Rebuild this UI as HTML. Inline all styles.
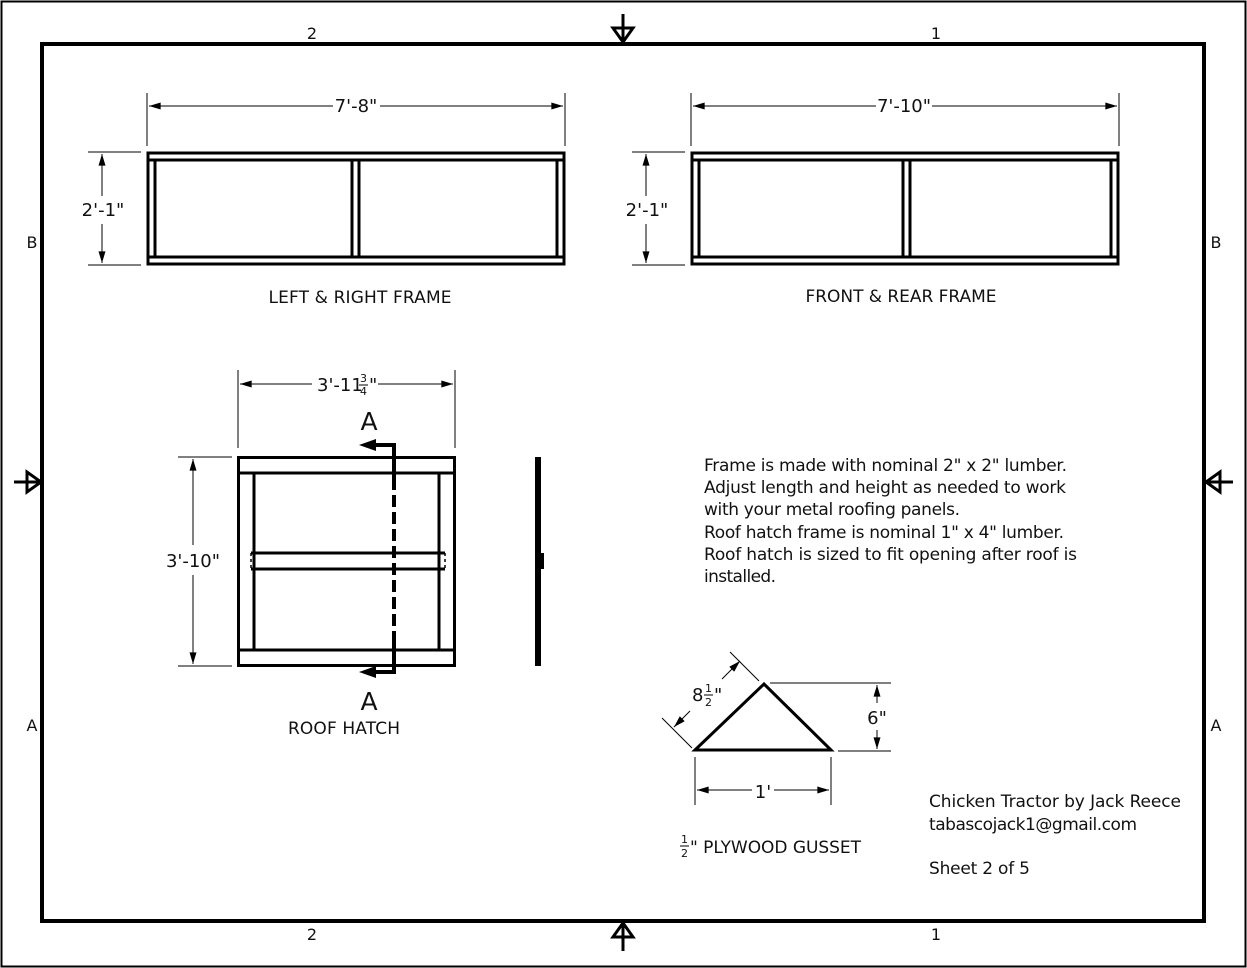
<!DOCTYPE html>
<html><head><meta charset="utf-8"><style>
html,body{margin:0;padding:0;background:#fff}
svg{display:block}
text{font-family:"DejaVu Sans","Liberation Sans",sans-serif;fill:#111}
</style></head><body>
<svg width="1247" height="968" viewBox="0 0 1247 968" xmlns="http://www.w3.org/2000/svg">
<defs>
<marker id="ar" viewBox="0 0 10 6" refX="10" refY="3" markerWidth="16" markerHeight="7" markerUnits="userSpaceOnUse" orient="auto-start-reverse"><path d="M0,0 L10,3 L0,6 Z" fill="#000"/></marker>
</defs>
<rect x="1.5" y="1.5" width="1244" height="965" fill="none" stroke="#000" stroke-width="2"/>
<rect x="42" y="44" width="1162" height="877" fill="none" stroke="#000" stroke-width="4"/>
<g stroke="#000" stroke-width="3" fill="none">
<line x1="623" y1="14" x2="623" y2="44"/><path d="M613,28 L633,28 L623,42 Z"/>
<line x1="623" y1="951" x2="623" y2="921"/><path d="M613,937 L633,937 L623,923 Z"/>
<line x1="14" y1="482" x2="42" y2="482"/><path d="M27,472 L27,492 L41,482 Z"/>
<line x1="1233" y1="482" x2="1204" y2="482"/><path d="M1220,472 L1220,492 L1206,482 Z"/>
</g>
<g font-size="16">
<text x="312" y="39" text-anchor="middle">2</text>
<text x="936" y="39" text-anchor="middle">1</text>
<text x="312" y="940" text-anchor="middle">2</text>
<text x="936" y="940" text-anchor="middle">1</text>
<text x="32" y="248" text-anchor="middle">B</text>
<text x="1216" y="248" text-anchor="middle">B</text>
<text x="32" y="731" text-anchor="middle">A</text>
<text x="1216" y="731" text-anchor="middle">A</text>
</g>

<g stroke="#000" stroke-width="3" fill="none">
<rect x="148" y="153" width="416" height="111"/>
<line x1="148" y1="160" x2="564" y2="160"/>
<line x1="148" y1="257" x2="564" y2="257"/>
<line x1="155" y1="160" x2="155" y2="257"/>
<line x1="557" y1="160" x2="557" y2="257"/>
<line x1="352" y1="160" x2="352" y2="257"/>
<line x1="359" y1="160" x2="359" y2="257"/>
</g>
<g stroke="#000" stroke-width="1" fill="none">
<line x1="147" y1="93" x2="147" y2="146"/><line x1="565" y1="93" x2="565" y2="146"/>
<line x1="149" y1="106" x2="333" y2="106" marker-start="url(#ar)"/>
<line x1="380" y1="106" x2="563" y2="106" marker-end="url(#ar)"/>
<line x1="88" y1="152" x2="141" y2="152"/><line x1="88" y1="265" x2="141" y2="265"/>
<line x1="102" y1="154" x2="102" y2="196" marker-start="url(#ar)"/>
<line x1="102" y1="224" x2="102" y2="263" marker-end="url(#ar)"/>
</g>
<text x="356" y="112" font-size="18" text-anchor="middle">7'-8"</text>
<text x="103" y="216" font-size="18" text-anchor="middle">2'-1"</text>
<text x="360" y="303" font-size="17" text-anchor="middle" textLength="183">LEFT &amp; RIGHT FRAME</text>

<g stroke="#000" stroke-width="3" fill="none">
<rect x="692" y="153" width="426" height="111"/>
<line x1="692" y1="160" x2="1118" y2="160"/>
<line x1="692" y1="257" x2="1118" y2="257"/>
<line x1="699" y1="160" x2="699" y2="257"/>
<line x1="1111" y1="160" x2="1111" y2="257"/>
<line x1="903" y1="160" x2="903" y2="257"/>
<line x1="910" y1="160" x2="910" y2="257"/>
</g>
<g stroke="#000" stroke-width="1" fill="none">
<line x1="691" y1="93" x2="691" y2="146"/><line x1="1119" y1="93" x2="1119" y2="146"/>
<line x1="693" y1="106" x2="876" y2="106" marker-start="url(#ar)"/>
<line x1="932" y1="106" x2="1117" y2="106" marker-end="url(#ar)"/>
<line x1="632" y1="152" x2="685" y2="152"/><line x1="632" y1="265" x2="685" y2="265"/>
<line x1="646" y1="154" x2="646" y2="196" marker-start="url(#ar)"/>
<line x1="646" y1="224" x2="646" y2="263" marker-end="url(#ar)"/>
</g>
<text x="904" y="112" font-size="18" text-anchor="middle">7'-10"</text>
<text x="647" y="216" font-size="18" text-anchor="middle">2'-1"</text>
<text x="901" y="302" font-size="17" text-anchor="middle" textLength="191">FRONT &amp; REAR FRAME</text>

<g stroke="#000" stroke-width="3" fill="none">
<rect x="238.5" y="457.5" width="216" height="208"/>
<line x1="238" y1="473" x2="455" y2="473"/>
<line x1="238" y1="650" x2="455" y2="650"/>
<line x1="254" y1="473" x2="254" y2="650"/>
<line x1="439" y1="473" x2="439" y2="650"/>
<line x1="251" y1="553" x2="445" y2="553"/>
<line x1="251" y1="569" x2="445" y2="569"/>
</g>
<g stroke="#000" stroke-width="1.5" fill="none" stroke-dasharray="3,3">
<line x1="251" y1="553" x2="251" y2="569"/>
<line x1="445" y1="553" x2="445" y2="569"/>
</g>
<g stroke="#000" stroke-width="4" fill="none">
<path d="M374,445 L394,445 L394,478"/>
<line x1="394" y1="478" x2="394" y2="640" stroke-dasharray="12,5"/>
<path d="M394,640 L394,672 L374,672"/>
</g>
<path d="M359,445 L376,439 L376,451 Z" fill="#000"/>
<path d="M359,672 L376,666 L376,678 Z" fill="#000"/>
<text x="369" y="430" font-size="25" text-anchor="middle">A</text>
<text x="369" y="710" font-size="25" text-anchor="middle">A</text>
<g stroke="#000" stroke-width="1" fill="none">
<line x1="238" y1="370" x2="238" y2="448"/><line x1="455" y1="370" x2="455" y2="448"/>
<line x1="240" y1="384" x2="312" y2="384" marker-start="url(#ar)"/>
<line x1="378" y1="384" x2="453" y2="384" marker-end="url(#ar)"/>
<line x1="178" y1="457" x2="232" y2="457"/><line x1="178" y1="666" x2="232" y2="666"/>
<line x1="193" y1="459" x2="193" y2="545" marker-start="url(#ar)"/>
<line x1="193" y1="575" x2="193" y2="664" marker-end="url(#ar)"/>
</g>
<text x="317" y="391" font-size="18">3'-11</text>
<text x="360" y="382" font-size="11">3</text>
<line x1="359" y1="385" x2="368" y2="385" stroke="#000" stroke-width="1"/>
<text x="360" y="395" font-size="11">4</text>
<text x="369" y="391" font-size="18">"</text>
<text x="193" y="567" font-size="18" text-anchor="middle">3'-10"</text>
<text x="344" y="734" font-size="17" text-anchor="middle" textLength="112">ROOF HATCH</text>
<rect x="535" y="457" width="6" height="209" fill="#000"/>
<rect x="539" y="553" width="5" height="16" fill="#000"/>

<g font-size="17">
<text x="704" y="471" textLength="363">Frame is made with nominal 2" x 2" lumber.</text>
<text x="704" y="493" textLength="362">Adjust length and height as needed to work</text>
<text x="704" y="515" textLength="256">with your metal roofing panels.</text>
<text x="704" y="538" textLength="360">Roof hatch frame is nominal 1" x 4" lumber.</text>
<text x="704" y="560" textLength="373">Roof hatch is sized to fit opening after roof is</text>
<text x="704" y="582" textLength="72">installed.</text>
</g>

<path d="M695,750 L764,684 L831,750 Z" fill="none" stroke="#000" stroke-width="3"/>
<g stroke="#000" stroke-width="1" fill="none">
<line x1="770" y1="683" x2="891" y2="683"/><line x1="838" y1="751" x2="891" y2="751"/>
<line x1="877" y1="685" x2="877" y2="703" marker-start="url(#ar)"/>
<line x1="877" y1="730" x2="877" y2="749" marker-end="url(#ar)"/>
<line x1="695" y1="757" x2="695" y2="805"/><line x1="831" y1="757" x2="831" y2="805"/>
<line x1="697" y1="790" x2="752" y2="790" marker-start="url(#ar)"/>
<line x1="774" y1="790" x2="829" y2="790" marker-end="url(#ar)"/>
<line x1="662" y1="718" x2="692" y2="748"/><line x1="730" y1="652" x2="759" y2="681"/>
<line x1="674" y1="727" x2="690" y2="711" marker-start="url(#ar)"/>
<line x1="722" y1="679" x2="740" y2="661" marker-end="url(#ar)"/>
</g>
<text x="877" y="724" font-size="18" text-anchor="middle">6"</text>
<text x="763" y="798" font-size="18" text-anchor="middle">1'</text>
<text x="692" y="701" font-size="18">8</text>
<text x="705" y="692" font-size="11">1</text>
<line x1="704" y1="695" x2="713" y2="695" stroke="#000" stroke-width="1"/>
<text x="705" y="706" font-size="11">2</text>
<text x="714" y="701" font-size="18">"</text>
<text x="681" y="843" font-size="11">1</text>
<line x1="680" y1="846" x2="689" y2="846" stroke="#000" stroke-width="1"/>
<text x="681" y="857" font-size="11">2</text>
<text x="690" y="853" font-size="17" textLength="171">" PLYWOOD GUSSET</text>

<g font-size="17">
<text x="929" y="807" textLength="252">Chicken Tractor by Jack Reece</text>
<text x="929" y="830" textLength="208">tabascojack1@gmail.com</text>
<text x="929" y="874" textLength="101">Sheet 2 of 5</text>
</g>
</svg>
</body></html>
